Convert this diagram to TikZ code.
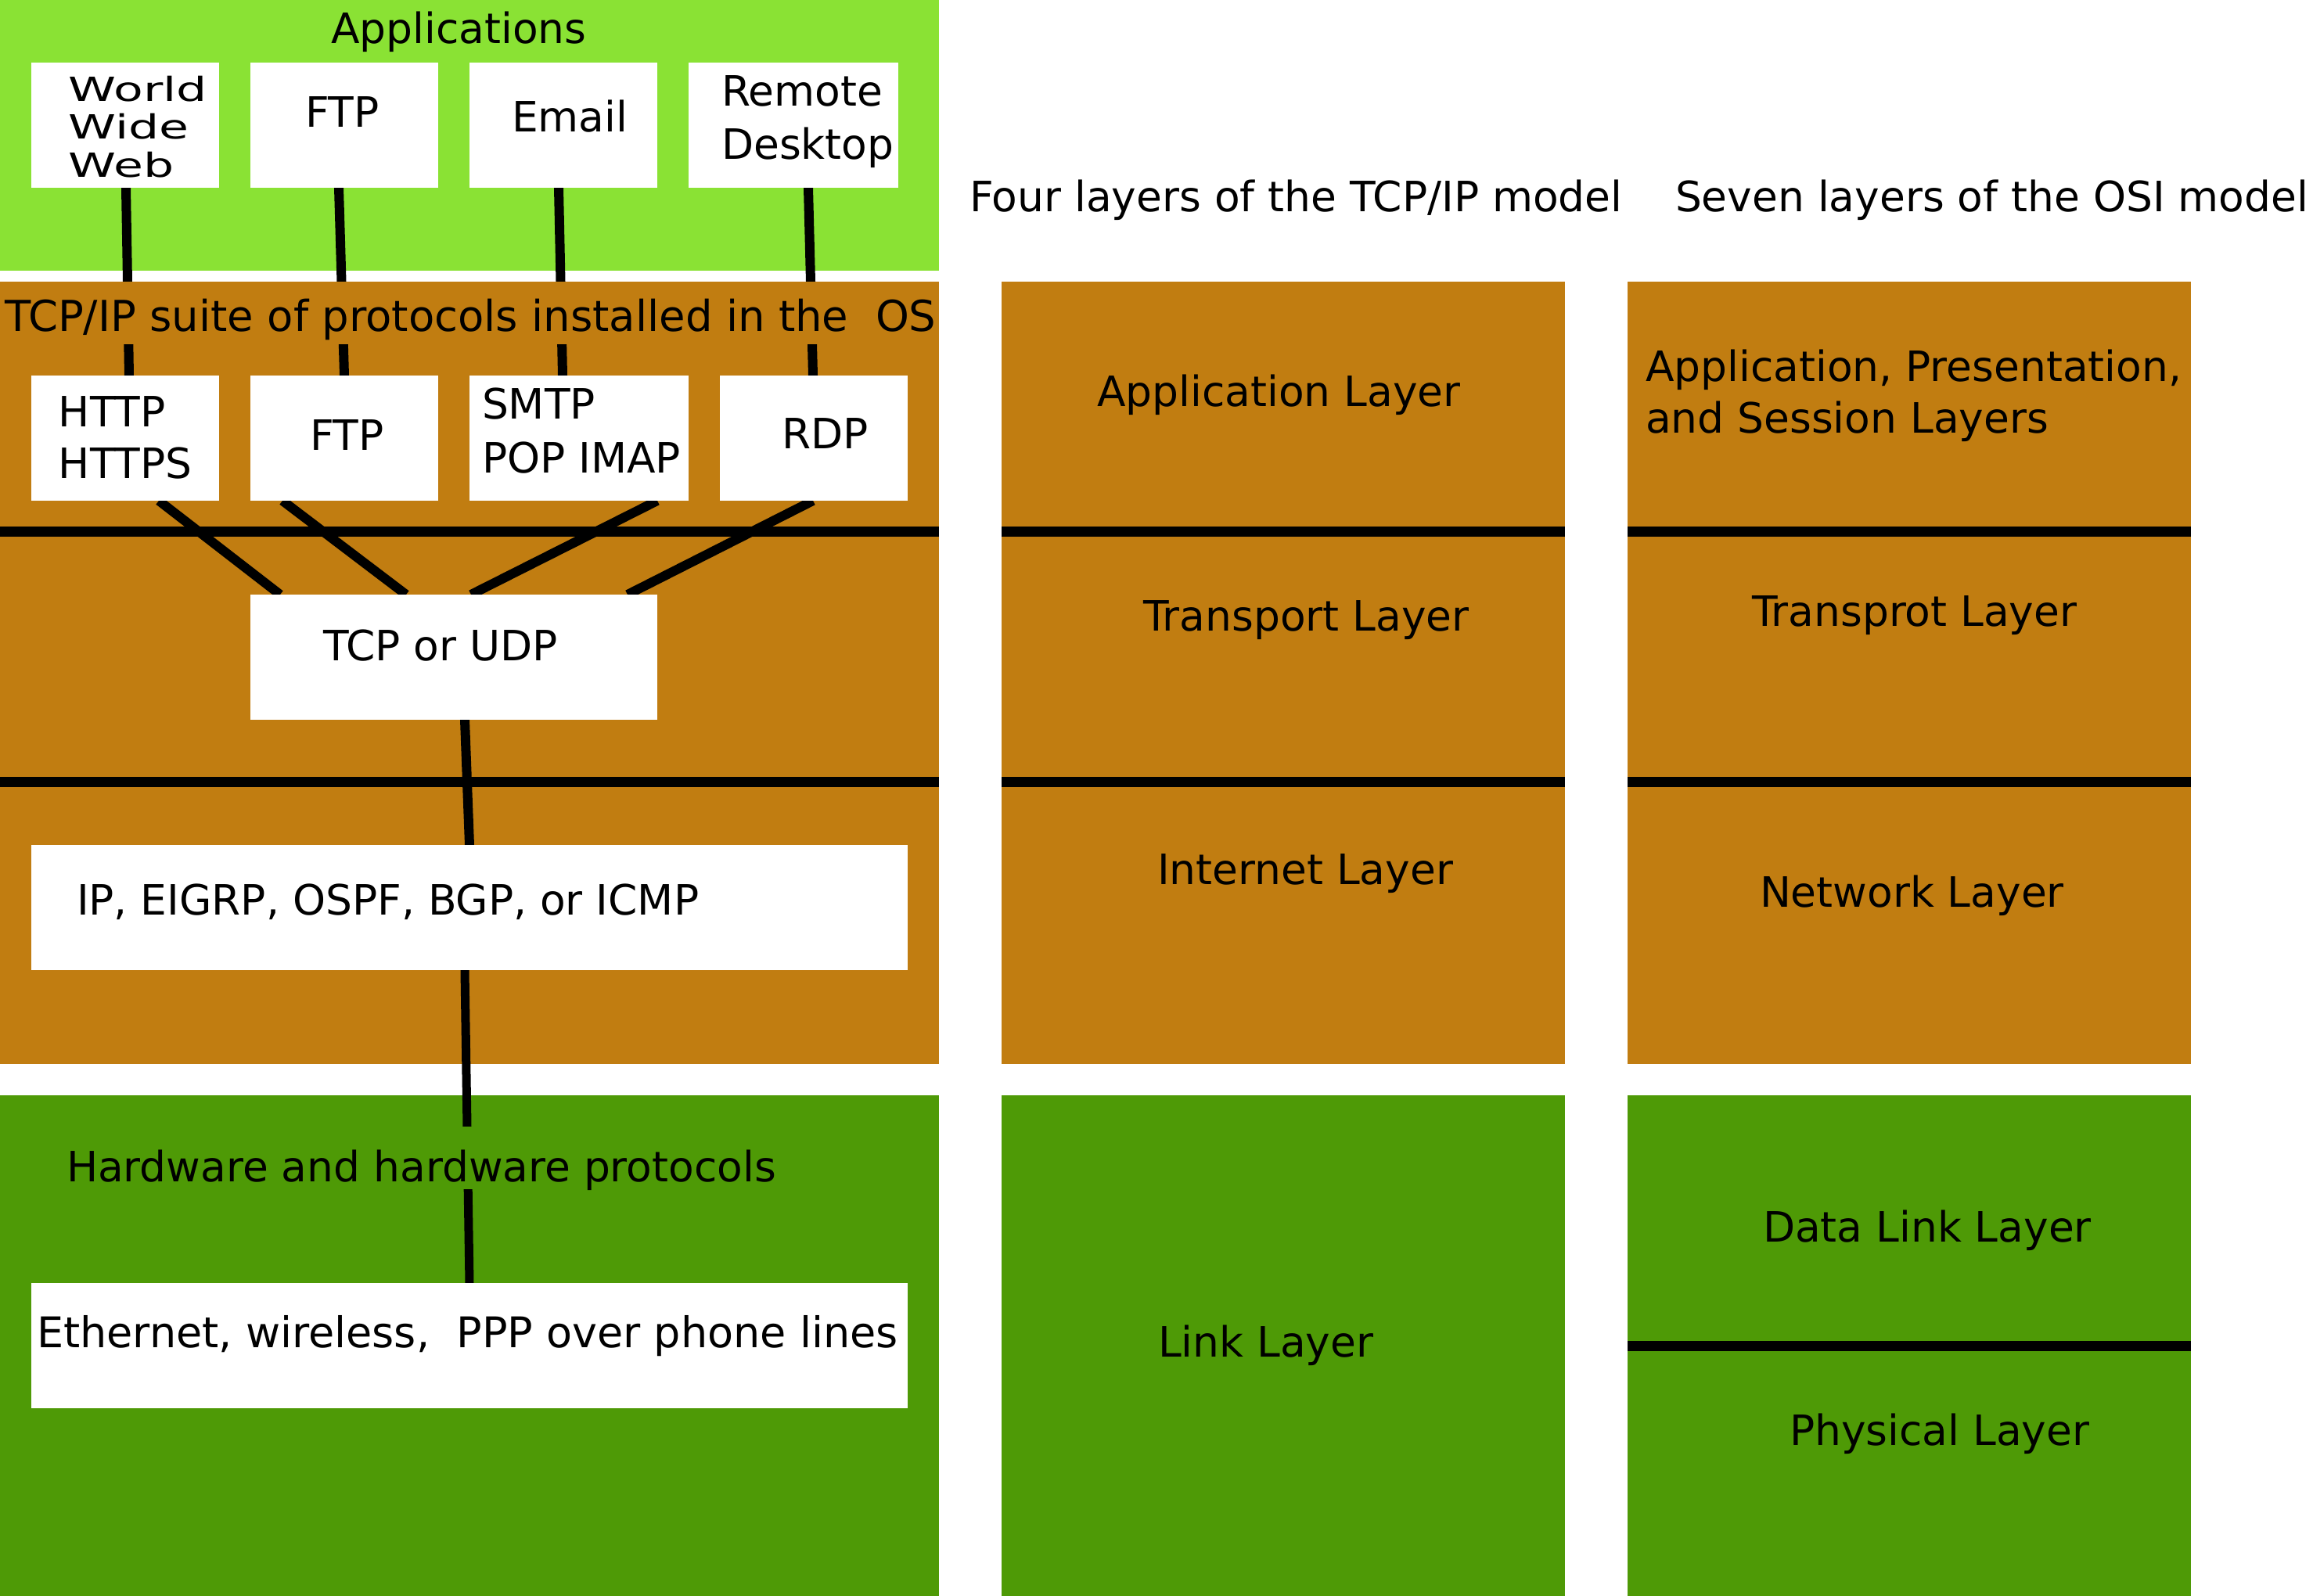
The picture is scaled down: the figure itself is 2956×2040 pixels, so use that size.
\documentclass[tikz,border=0pt]{standalone}
\usepackage{fontspec}
\setmainfont{DejaVu Sans}
\newfontfamily\widefont[FakeStretch=1.45]{DejaVu Sans}
\definecolor{appgreen}{HTML}{8AE234}
\definecolor{osbrown}{HTML}{C17D11}
\definecolor{hwgreen}{HTML}{4E9A06}
\newcommand{\mainfs}{\fontsize{15.2}{18.78}\selectfont}
\newcommand{\wwwfs}{\widefont\fontsize{12.1}{13.66}\selectfont}
\newcommand{\stacklines}[1]{\begin{tabular}[t]{@{}l@{}}#1\end{tabular}}
\pgfdeclarelayer{bg}
\pgfdeclarelayer{lines}
\pgfsetlayers{bg,lines,main}
\tikzset{
  wbox/.style={fill=white, inner sep=0pt, outer sep=0pt, anchor=north west},
  lbl/.style={inner sep=0pt, outer sep=0pt, anchor=base west, font=\mainfs},
  conn/.style={line width=1.2mm, black},
  sepline/.style={line width=1.3mm, black},
}
\begin{document}
\begin{tikzpicture}[x=0.1mm, y=-0.1mm]
\useasboundingbox (0,0) rectangle (2956,2040);
\clip (0,0) rectangle (2956,2040);

% boxes
\node[wbox, minimum width=24mm, minimum height=16mm] (www) at (40,80) {};
\node[wbox, minimum width=24mm, minimum height=16mm] (ftpa) at (320,80) {};
\node[wbox, minimum width=24mm, minimum height=16mm] (email) at (600,80) {};
\node[wbox, minimum width=26.8mm, minimum height=16mm] (remote) at (880,80) {};
\node[wbox, minimum width=24mm, minimum height=16mm] (http) at (40,480) {};
\node[wbox, minimum width=24mm, minimum height=16mm] (ftpb) at (320,480) {};
\node[wbox, minimum width=28mm, minimum height=16mm] (smtp) at (600,480) {};
\node[wbox, minimum width=24mm, minimum height=16mm] (rdp) at (920,480) {};
\node[wbox, minimum width=52mm, minimum height=16mm] (tcp) at (320,760) {};
\node[wbox, minimum width=112mm, minimum height=16mm] (ip) at (40,1080) {};
\node[wbox, minimum width=112mm, minimum height=16mm] (eth) at (40,1640) {};

% background regions
\begin{pgfonlayer}{bg}
\fill[appgreen] (0,0) rectangle (1200,346);
\fill[osbrown] (0,360) rectangle (1200,1360);
\fill[osbrown] (1280,360) rectangle (2000,1360);
\fill[osbrown] (2080,360) rectangle (2800,1360);
\fill[hwgreen] (0,1400) rectangle (1200,2040);
\fill[hwgreen] (1280,1400) rectangle (2000,2040);
\fill[hwgreen] (2080,1400) rectangle (2800,2040);
\end{pgfonlayer}

% connectors and layer separators
\begin{pgfonlayer}{lines}
\draw[conn] ([xshift=0.1mm]www.south) -- ([xshift=0.5mm]http.north);
\draw[conn] ([xshift=-0.7mm]ftpa.south) -- (ftpb.north);
\draw[conn] ([xshift=-0.6mm]email.south) -- ([xshift=-2.1mm]smtp.north);
\draw[conn] ([xshift=1.9mm]remote.south) -- ([xshift=-0.1mm]rdp.north);
\draw[conn] ([xshift=4.3mm]http.south) -- ([xshift=-22.2mm]tcp.north);
\draw[conn] ([xshift=-7.9mm]ftpb.south) -- ([xshift=-6.1mm]tcp.north);
\draw[conn] ([xshift=10mm]smtp.south) -- ([xshift=2.2mm]tcp.north);
\draw[conn] ([xshift=-0.1mm]rdp.south) -- ([xshift=22.2mm]tcp.north);
\draw[conn] ([xshift=1.4mm]tcp.south) -- (ip.north);
\draw[conn, line width=1.1mm] ([xshift=-0.6mm]ip.south) -- (eth.north);
\foreach \yy in {680,1000} {
  \draw[sepline] (0,\yy) -- (1200,\yy);
  \draw[sepline] (1280,\yy) -- (2000,\yy);
  \draw[sepline] (2080,\yy) -- (2800,\yy);
}
\draw[sepline] (2080,1720) -- (2800,1720);
\end{pgfonlayer}

% texts
\node[lbl] (tapps) at (423,56) {Applications};
\node[lbl, font=\wwwfs] (twww) at (88,130) {\stacklines{World\\Wide\\Web}};
\node[lbl] (tftpa) at (390,163) {FTP};
\node[lbl] (temail) at (654,169) {Email};
\node[lbl, font=\fontsize{15.2}{19.07}\selectfont] (tremote) at (922,136) {\stacklines{Remote\\Desktop}};
\node[lbl, font=\fontsize{15.5}{18.78}\selectfont, fill=osbrown, text height=6.4mm, text depth=1.6mm] (tsuite) at (6,424) {TCP/IP suite of protocols installed in the\ \ OS};
\node[lbl] (thttp) at (75,546) {\stacklines{HTTP\\HTTPS}};
\node[lbl] (tftpb) at (396,576) {FTP};
\node[lbl, font=\fontsize{15.2}{19.36}\selectfont] (tsmtp) at (616,536) {\stacklines{SMTP\\POP IMAP}};
\node[lbl] (trdp) at (999,574) {RDP};
\node[lbl] (ttcp) at (413,845) {TCP or UDP};
\node[lbl] (tip) at (98,1169) {IP, EIGRP, OSPF, BGP, or ICMP};
\node[lbl, fill=hwgreen, text height=7mm, text depth=1mm] (thw) at (85,1510) {Hardware and hardware protocols};
\node[lbl, font=\fontsize{15.37}{18.78}\selectfont] (teth) at (47,1722) {Ethernet, wireless,\ \ PPP over phone lines};

\node[lbl] (tfour) at (1239,271) {Four layers of the TCP/IP model};
\node[lbl] (tseven) at (2141,271) {Seven layers of the OSI model};
\node[lbl] (tappl) at (1402,520) {Application Layer};
\node[lbl] (tapps7) at (2103,488) {\stacklines{Application, Presentation,\\and Session Layers}};
\node[lbl] (ttrans) at (1461,807) {Transport Layer};
\node[lbl] (ttrans7) at (2239,801) {Transprot Layer};
\node[lbl] (tinet) at (1479,1130) {Internet Layer};
\node[lbl] (tnet) at (2249,1159) {Network Layer};
\node[lbl] (tlink) at (1480,1734) {Link Layer};
\node[lbl] (tdata) at (2253,1587) {Data Link Layer};
\node[lbl] (tphys) at (2287,1847) {Physical Layer};
\end{tikzpicture}
\end{document}
